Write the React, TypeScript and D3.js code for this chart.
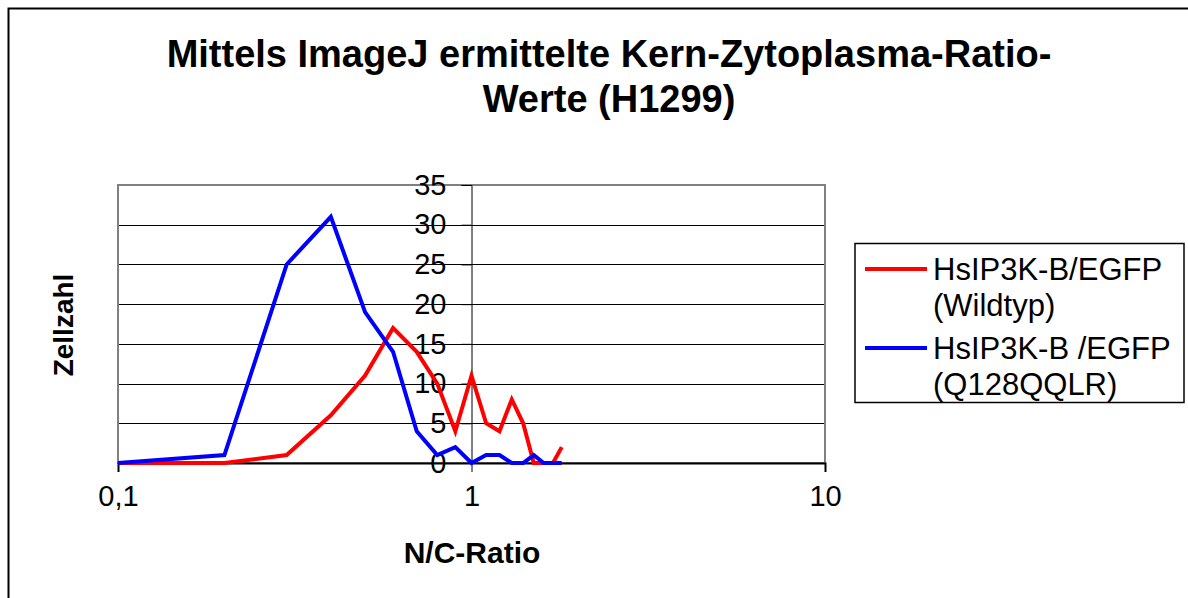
import React, { useEffect, useRef } from 'react'
import * as d3 from 'd3'

const ratios = [0.1, 0.2, 0.3, 0.4, 0.5, 0.6, 0.7, 0.8, 0.9, 1.0, 1.1, 1.2, 1.3, 1.4, 1.5, 1.6, 1.7, 1.8]
const wildtyp = [0, 0, 1, 6, 11, 17, 14, 10, 4, 11, 5, 4, 8, 5, 0, 0, 0, 2]
const mutante = [0, 1, 25, 31, 19, 14, 4, 1, 2, 0, 1, 1, 0, 0, 1, 0, 0, 0]
const xTicks = [0.1, 1, 10]
const yTicks = [0, 5, 10, 15, 20, 25, 30, 35]
const titleLines = ['Mittels ImageJ ermittelte Kern-Zytoplasma-Ratio-', 'Werte (H1299)']
const legendItems = [
    { name: ['HsIP3K-B/EGFP', '(Wildtyp)'], values: wildtyp, color: '#ff0000' },
    { name: ['HsIP3K-B /EGFP', '(Q128QQLR)'], values: mutante, color: '#0000ff' },
]

const W = 1188
const H = 598
const font = 'Arial, "Liberation Sans", sans-serif'

export default function App() {
    const svgRef = useRef<SVGSVGElement | null>(null)

    useEffect(() => {
        const svg = d3.select(svgRef.current)
        svg.selectAll('*').remove()

        const plot = { left: 118, right: 825, top: 185, bottom: 463 }

        const x = d3.scaleLog().domain([0.1, 10]).range([plot.left, plot.right])
        const y = d3.scaleLinear().domain([0, 35]).range([plot.bottom, plot.top])

        // outer chart frame (cut off at right and bottom)
        svg.append('path')
            .attr('d', `M8.5,${H} L8.5,8.5 L${W},8.5`)
            .attr('fill', 'none')
            .attr('stroke', '#000')
            .attr('stroke-width', 2)

        // title
        svg.append('text')
            .attr('text-anchor', 'middle')
            .style('font-family', font)
            .style('font-weight', 'bold')
            .style('font-size', '38px')
            .selectAll('tspan')
            .data(titleLines)
            .join('tspan')
            .attr('x', 609)
            .attr('y', (d, i) => 67 + i * 45)
            .text(d => d)

        // horizontal gridlines
        svg.append('g')
            .selectAll('line')
            .data(yTicks.filter(t => t > 0 && t < 35))
            .join('line')
            .attr('x1', plot.left)
            .attr('x2', plot.right)
            .attr('y1', d => Math.round(y(d)) + 0.5)
            .attr('y2', d => Math.round(y(d)) + 0.5)
            .attr('stroke', '#000')
            .attr('stroke-width', 1)

        // plot area border
        svg.append('rect')
            .attr('x', plot.left)
            .attr('y', plot.top)
            .attr('width', plot.right - plot.left)
            .attr('height', plot.bottom - plot.top)
            .attr('fill', 'none')
            .attr('stroke', '#808080')
            .attr('stroke-width', 2)

        // X-axis at y = 0
        const xAxis = svg.append('g')
            .attr('transform', `translate(0, ${plot.bottom})`)
            .call(d3.axisBottom(x).tickValues(xTicks).tickSize(9).tickPadding(13)
                .tickFormat(d => String(d).replace('.', ',')))
        xAxis.select('.domain').attr('stroke', '#000').attr('stroke-width', 2)
        xAxis.selectAll('.tick line').attr('stroke', '#000')
        xAxis.selectAll('text')
            .style('font-family', font)
            .style('font-size', '29px')
            .attr('fill', '#000')

        // Y-axis crosses at x = 1
        const yAxis = svg.append('g')
            .attr('transform', `translate(${x(1)}, 0)`)
            .call(d3.axisLeft(y).tickValues(yTicks).tickSize(10).tickPadding(15))
        yAxis.select('.domain').attr('stroke', '#000')
        yAxis.selectAll('.tick line').attr('stroke', '#000')
        yAxis.selectAll('text')
            .style('font-family', font)
            .style('font-size', '29px')
            .attr('fill', '#000')

        // series lines
        const line = d3.line<number>()
            .x((d, i) => x(ratios[i]))
            .y(d => y(d))

        legendItems.forEach(s => {
            svg.append('path')
                .datum(s.values)
                .attr('d', line)
                .attr('fill', 'none')
                .attr('stroke', s.color)
                .attr('stroke-width', 4)
                .attr('stroke-linejoin', 'miter')
        })

        // axis titles
        svg.append('text')
            .attr('x', 472)
            .attr('y', 563)
            .attr('text-anchor', 'middle')
            .style('font-family', font)
            .style('font-weight', 'bold')
            .style('font-size', '30px')
            .text('N/C-Ratio')

        svg.append('text')
            .attr('transform', 'translate(73, 325) rotate(-90)')
            .attr('text-anchor', 'middle')
            .style('font-family', font)
            .style('font-weight', 'bold')
            .style('font-size', '28px')
            .text('Zellzahl')

        // legend
        const legend = svg.append('g')
        legend.append('rect')
            .attr('x', 855)
            .attr('y', 243.5)
            .attr('width', 329)
            .attr('height', 159)
            .attr('fill', '#fff')
            .attr('stroke', '#000')
            .attr('stroke-width', 1.5)

        const rowY = [269, 348]
        legendItems.forEach((s, i) => {
            legend.append('line')
                .attr('x1', 865)
                .attr('x2', 927)
                .attr('y1', rowY[i])
                .attr('y2', rowY[i])
                .attr('stroke', s.color)
                .attr('stroke-width', 4)
            legend.append('text')
                .style('font-family', font)
                .style('font-size', '31px')
                .selectAll('tspan')
                .data(s.name)
                .join('tspan')
                .attr('x', 933)
                .attr('y', (d, j) => rowY[i] + 11 + j * 36)
                .text(d => d)
        })
    }, [])

    return (
        <svg ref={svgRef} width={W} height={H} style={{ position: 'absolute', left: 0, top: 0, background: '#fff' }} />
    )
}
